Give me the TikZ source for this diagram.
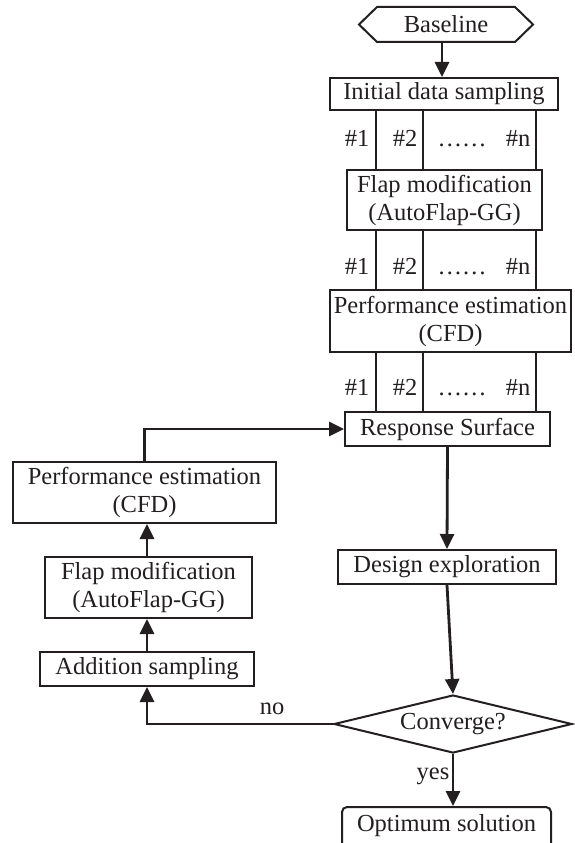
\documentclass[tikz,border=0pt]{standalone}
\usepackage{fontspec}
\setmainfont{Liberation Serif}
\usetikzlibrary{arrows.meta,shapes.geometric}
\definecolor{ink}{HTML}{231F20}
\begin{document}
\begin{tikzpicture}[x=1pt,y=-1pt,
  every node/.style={font=\fontsize{24.5}{28}\selectfont, text=ink},
  box/.style={draw=ink, line width=2pt, inner sep=0pt, align=center},
  lane/.style={draw=ink, line width=2pt},
  conn/.style={draw=ink, line width=2.8pt, -{Triangle[length=15pt,width=14pt]}},
  lbl/.style={inner sep=0pt},
  hashlbl/.style={inner sep=0pt, anchor=base}
]
\useasboundingbox (0,0) rectangle (574,843);
\fill[white] (0,0) rectangle (574,843);

% Baseline hexagon
\node[lbl, minimum width=174pt, minimum height=35pt] (base) at (446,24.5) {Baseline};
\draw[draw=ink, line width=2pt] (359,24.5) -- (377,7) -- (515,7) -- (533,24.5) -- (515,42) -- (377,42) -- cycle;

\node[box, minimum width=228pt, minimum height=32pt] (init) at (444,94) {Initial data sampling};
\node[box, minimum width=195pt, minimum height=60pt] (flapA) at (444.5,200) {Flap modification\\(AutoFlap-GG)};
\node[box, minimum width=241pt, minimum height=62pt] (perfA) at (450.5,321) {Performance estimation\\(CFD)};
\node[box, minimum width=205pt, minimum height=34pt] (resp) at (447.5,429) {Response Surface};
\node[box, minimum width=263pt, minimum height=61pt] (perfB) at (144.5,492.5) {Performance estimation\\(CFD)};
\node[box, minimum width=207pt, minimum height=61pt] (flapB) at (148.5,587.5) {Flap modification\\(AutoFlap-GG)};
\node[box, minimum width=214pt, minimum height=34pt] (add) at (147,669) {Addition sampling};
\node[box, minimum width=218pt, minimum height=34pt] (design) at (447,567) {Design exploration};
\node[box, diamond, aspect=4.1, minimum width=238pt, minimum height=58pt] (conv) at (453,724) {Converge?};
\node[box, rounded corners=5pt, minimum width=209pt, minimum height=46pt] (opt) at (446.5,830) {};
\node[lbl] (opttext) at (446.5,826) {Optimum solution};

% lane positions
\coordinate (L1) at (376,0);
\coordinate (L2) at (423,0);
\coordinate (L3) at (536,0);

\foreach \l in {L1,L2,L3}{
  \draw[lane] (init.south -| \l) -- (flapA.north -| \l);
  \draw[lane] (flapA.south -| \l) -- (perfA.north -| \l);
  \draw[lane] (perfA.south -| \l) -- (resp.north -| \l);
}

% lane labels
\foreach \y/\r in {146/a,274/b,395/c}{
  \node[hashlbl] (h1\r) at (357,\y) {\#1};
  \node[hashlbl] (h2\r) at (405,\y) {\#2};
  \node[hashlbl] (hd\r) at (462,\y) {……};
  \node[hashlbl] (hn\r) at (518,\y) {\#n};
}

% connectors
\draw[conn] (base.south -| 442,0) -- (init.north -| 442,0);
\draw[conn] (resp.south) -- (design.north);
\draw[conn] (design.south) -- (conv.north);
\draw[conn] (conv.south) -- (conv.south |- opt.north);
\draw[conn] (conv.west) -| (add.south);
\draw[conn] (add.north) -- (add.north |- flapB.south);
\draw[conn] (flapB.north -| add.north) -- (perfB.south -| add.north);
\draw[conn] (perfB.north) |- (resp.west);

\node[lbl] (no) at (272,709) {no};
\node[lbl] (yes) at (433,776) {yes};
\end{tikzpicture}
\end{document}
